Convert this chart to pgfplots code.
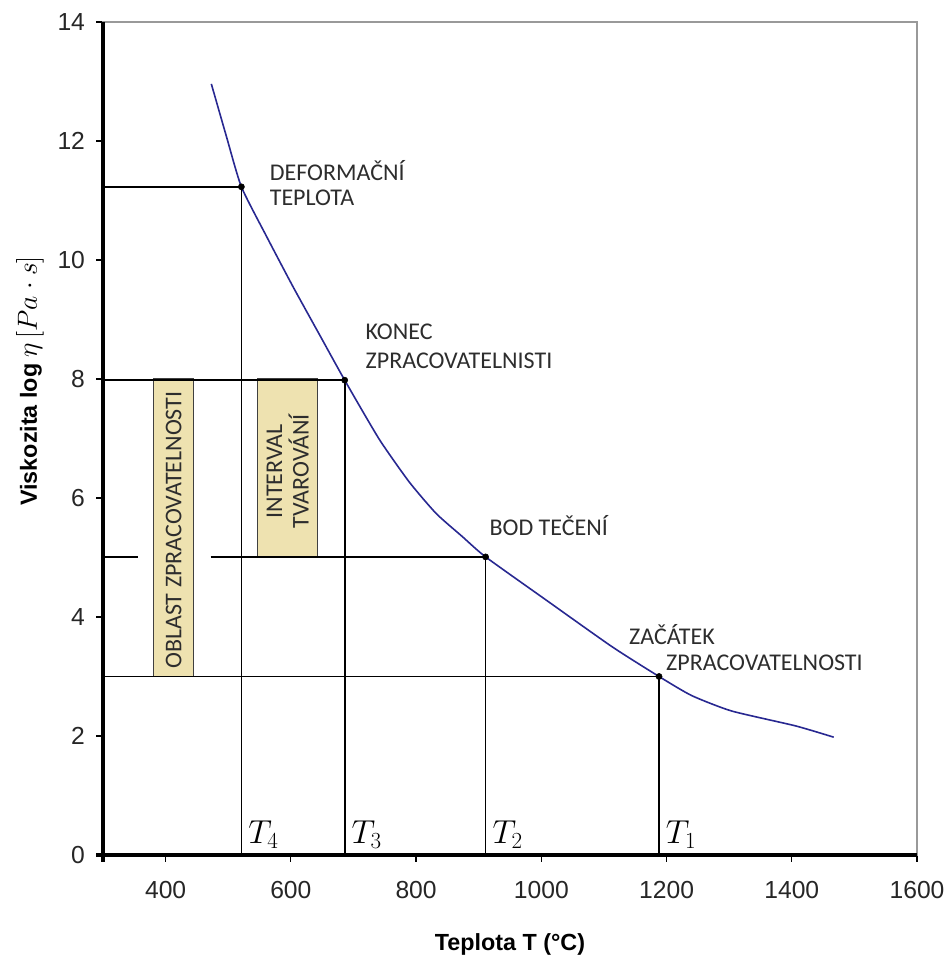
\documentclass[border=0pt]{standalone}
\usepackage{fontspec}
\setmainfont{Liberation Sans}
\newfontfamily\carlito{Carlito}
\usepackage{pgfplots}
\pgfplotsset{compat=1.18}
\definecolor{curve}{RGB}{40,40,145}
\definecolor{boxfill}{RGB}{238,226,176}
\definecolor{annot}{RGB}{45,45,45}
\begin{document}
\begin{tikzpicture}
\begin{axis}[
  scale only axis, width=610.5pt, height=624.75pt,
  xmin=300, xmax=1600, ymin=0, ymax=14,
  xtick={400,600,...,1600}, ytick={0,2,...,14},
  tick pos=left, tick align=outside, major tick length=5pt,
  tick style={black, line width=0.9pt},
  axis line style={draw=black!40, line width=1.6pt},
  ticklabel style={font=\fontsize{18.5}{21}\selectfont, text=black!85},
  xticklabel style={yshift=-11pt},
  yticklabel style={xshift=-5pt},
  /pgf/number format/assume math mode=true,
  /pgf/number format/1000 sep={},
  xlabel={\textbf{Teplota T (°C)}},
  ylabel={\textbf{Viskozita log} {\fontsize{21}{24}\selectfont$\eta\,\Bigl[Pa\cdot s\Bigr]$}},
  every axis x label/.style={at={(axis description cs:0.5,-0.108)}, anchor=center, font=\fontsize{17.5}{20}\selectfont},
  every axis y label/.style={at={(axis description cs:-0.0897,0.569)}, anchor=center, rotate=90, font=\fontsize{17.5}{20}\selectfont},
  clip=false,
]
% shaded boxes
\addplot[fill=boxfill, draw=black!75, line width=1pt] coordinates {(381,3) (445,3) (445,8) (381,8)} -- cycle;
\addplot[fill=boxfill, draw=black!75, line width=1pt] coordinates {(547,5) (643,5) (643,8) (547,8)} -- cycle;
% reference lines
\addplot[black, line width=1.25pt] coordinates {(300,11.23) (521,11.23) (521,0)};
\addplot[black, line width=1.25pt] coordinates {(300,7.98) (686,7.98) (686,0)};
\addplot[black, line width=1.25pt] coordinates {(300,5.01) (356,5.01)};
\addplot[black, line width=1.25pt] coordinates {(472,5.01) (911,5.01) (911,0)};
\addplot[black, line width=1.25pt] coordinates {(300,3) (1188,3) (1188,0)};
% viscosity curve
\addplot[curve, line width=1.2pt, smooth, tension=0.35] table {
x y
473 12.96
497 12.08
521 11.23
561 10.40
603 9.56
646 8.74
686 7.98
741 6.99
789 6.27
832 5.74
874 5.35
911 5.01
1007 4.29
1113 3.50
1188 3.00
1240 2.68
1304 2.42
1406 2.17
1467 1.98
};
\addplot[only marks, mark=*, mark size=2.3pt, black] coordinates {(521,11.23) (686,7.98) (911,5.01) (1188,3)};
% thick axes
\draw[black, line width=3pt] (rel axis cs:0,1) -- ([yshift=-5pt]rel axis cs:0,0);
\draw[black, line width=3pt] ([xshift=-5pt]rel axis cs:0,0) -- (rel axis cs:1,0);
% annotations
\begin{scope}[every node/.style={inner sep=0, text=annot, font=\carlito\fontsize{18}{20}\selectfont}]
\node[anchor=west] at (axis cs:566,11.51) {DEFORMAČNÍ};
\node[anchor=west] at (axis cs:566,11.04) {TEPLOTA};
\node[anchor=west] at (axis cs:719,8.79) {KONEC};
\node[anchor=west] at (axis cs:719,8.30) {ZPRACOVATELNISTI};
\node[anchor=west] at (axis cs:917,5.53) {BOD TEČENÍ};
\node[anchor=west] at (axis cs:1140,3.71) {ZAČÁTEK};
\node[anchor=west] at (axis cs:1199,3.23) {ZPRACOVATELNOSTI};
\node[rotate=90, anchor=center] at (axis cs:413,5.46) {OBLAST ZPRACOVATELNOSTI};
\node[rotate=90, anchor=center, align=center] at (axis cs:595,6.45) {INTERVAL\\TVAROVÁNÍ};
\end{scope}
\begin{scope}[every node/.style={inner sep=0, anchor=south west, xshift=5pt, yshift=5pt, font=\fontsize{23}{25}\selectfont}]
\node at (axis cs:521,0) {$T_4$};
\node at (axis cs:686,0) {$T_3$};
\node at (axis cs:911,0) {$T_2$};
\node at (axis cs:1188,0) {$T_1$};
\end{scope}
\coordinate (bbl) at (rel axis cs:-0.12654,-0.12245);
\coordinate (btr) at (rel axis cs:1.03686,1.02641);
\end{axis}
\pgfresetboundingbox
\useasboundingbox (bbl) rectangle (btr);
\end{tikzpicture}
\end{document}
